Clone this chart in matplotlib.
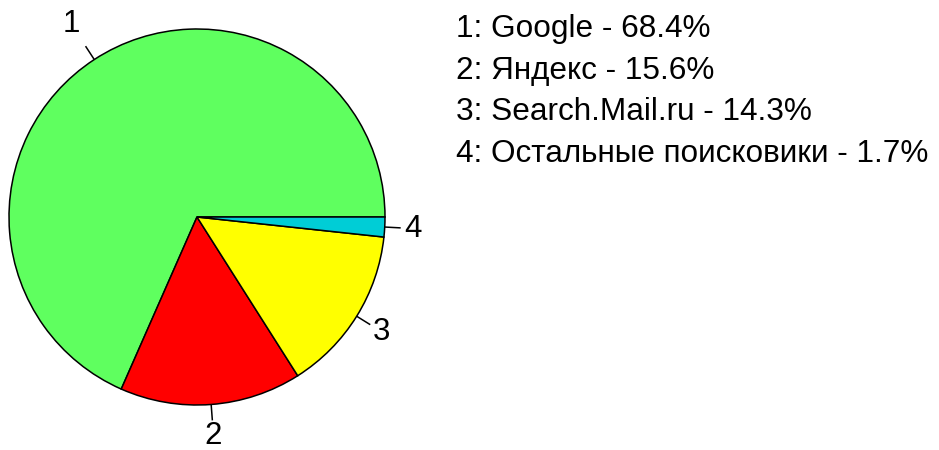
import numpy as np
import matplotlib
matplotlib.use("Agg")
import matplotlib.pyplot as plt

# ---- data ----
engines = ["Google", "Яндекс", "Search.Mail.ru", "Остальные поисковики"]
shares = [68.4, 15.6, 14.3, 1.7]
slice_labels = ["1", "2", "3", "4"]

# ---- style ----
colors = ["#5FFF5F", "#FF0000", "#FFFF00", "#00CDD6"]
label_radius = [1.225, 1.17, 1.157, 1.15]
W, H = 939, 450
cx, cy, R = 197, H - 217, 188

plt.rcParams["font.family"] = ["Liberation Sans", "DejaVu Sans"]
fig = plt.figure(figsize=(W / 100, H / 100), dpi=100)
ax = fig.add_axes([0, 0, 1, 1])

wedges, _ = ax.pie(shares, colors=colors, startangle=0, counterclock=True,
                   center=(cx, cy), radius=R,
                   wedgeprops=dict(edgecolor="black", linewidth=1.1))

for w, lab, lr in zip(wedges, slice_labels, label_radius):
    th = np.deg2rad((w.theta1 + w.theta2) / 2)
    c, s = np.cos(th), np.sin(th)
    ax.plot([cx + R * c, cx + 1.085 * R * c], [cy + R * s, cy + 1.085 * R * s],
            color="black", linewidth=1.1, solid_capstyle="butt")
    ax.text(cx + lr * R * c, cy + lr * R * s, lab, ha="center", va="center",
            fontsize=22.5, color="black")

for i, (lab, name, v) in enumerate(zip(slice_labels, engines, shares)):
    ax.text(456, 413 - i * 41.7, f"{lab}: {name} - {v}%", ha="left",
            va="baseline", fontsize=22.7, color="black")

ax.set_xlim(0, W)
ax.set_ylim(0, H)
ax.set_aspect("equal")
ax.axis("off")
fig.savefig("out.png", dpi=100, facecolor="white")
